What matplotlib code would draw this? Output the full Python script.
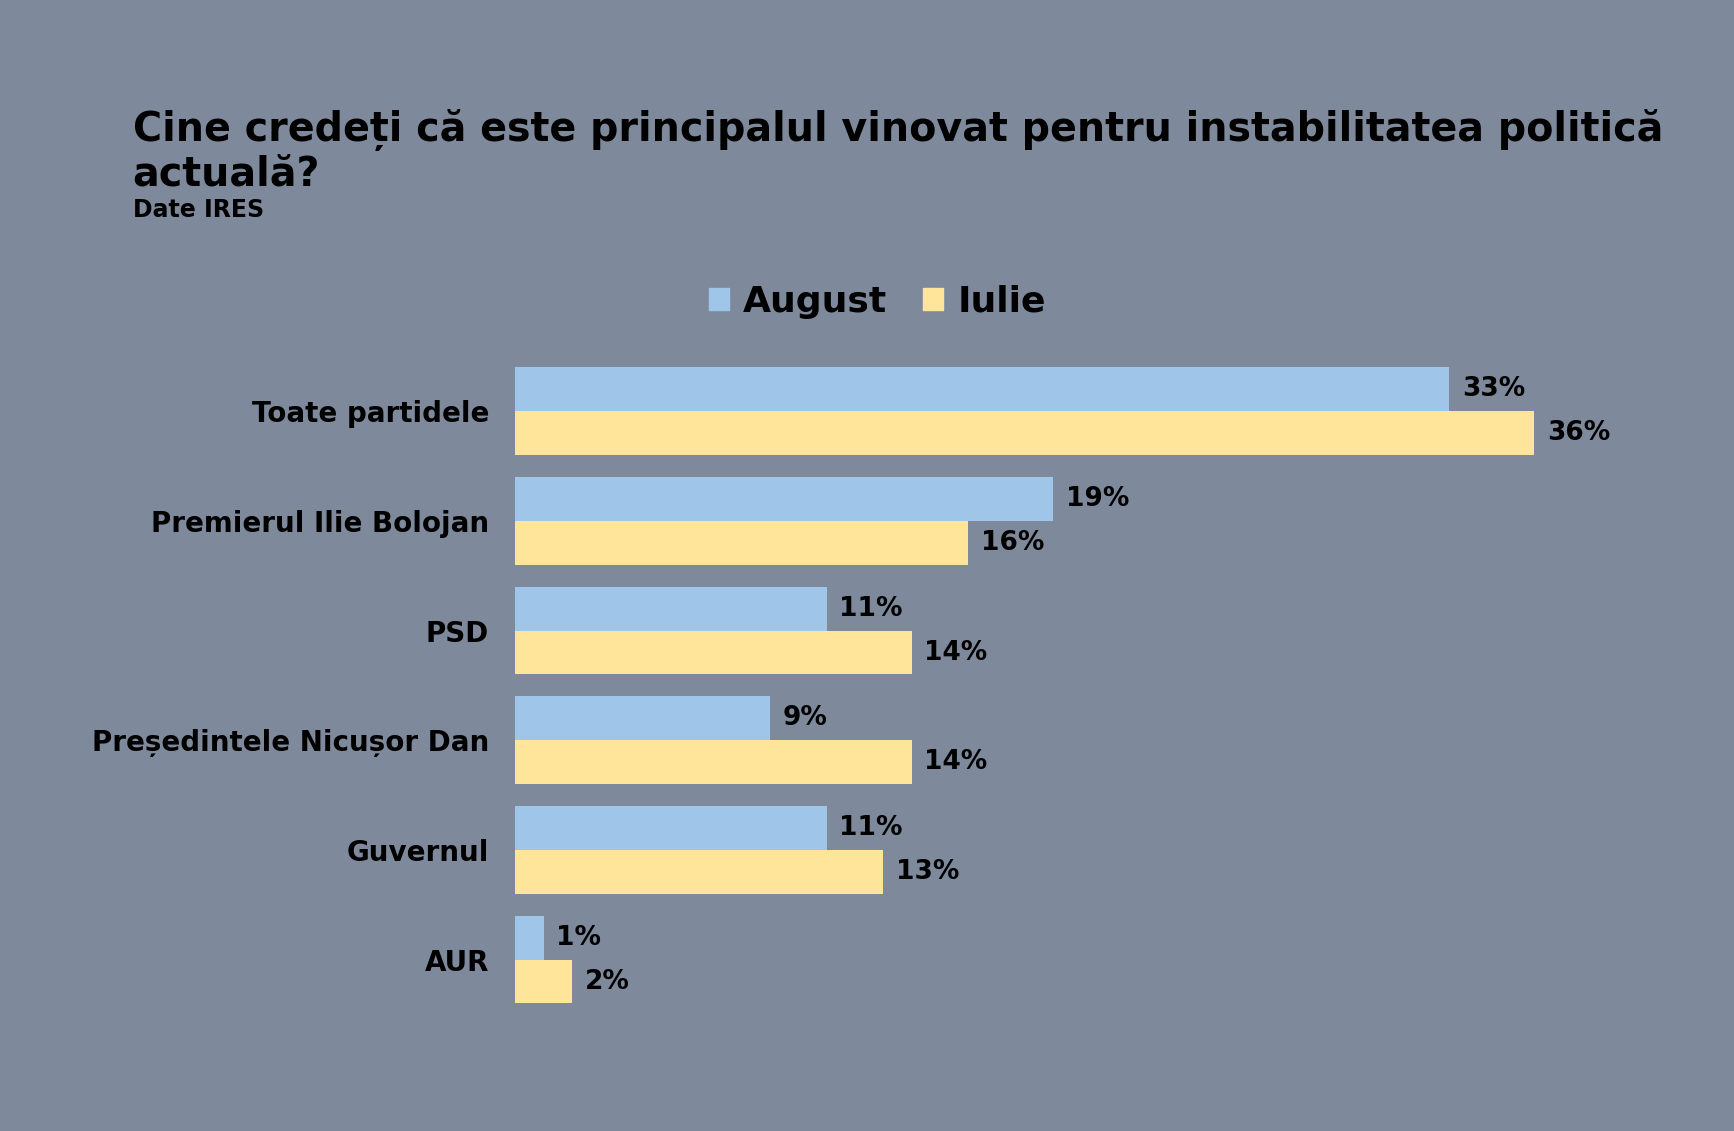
import numpy as np
import matplotlib
matplotlib.use("Agg")
import matplotlib.pyplot as plt
from matplotlib.patches import Patch

categories = ["Toate partidele", "Premierul Ilie Bolojan", "PSD",
              "Președintele Nicușor Dan", "Guvernul", "AUR"]
august = [33, 19, 11, 9, 11, 1]
iulie = [36, 16, 14, 14, 13, 2]

bg = "#7E8A9C"
c_aug = "#9FC5E8"
c_iul = "#FFE599"

plt.rcParams['font.family'] = ['DejaVu Sans']
plt.rcParams['font.weight'] = 'bold'

fig = plt.figure(figsize=(17.34, 11.31), dpi=100, facecolor=bg)
ax = fig.add_axes([0.2972, 0.0934, 0.653, 0.6011])
ax.set_facecolor(bg)

y = np.arange(len(categories))
h = 0.4
ax.barh(y - h/2, august, height=h, color=c_aug, label="August")
ax.barh(y + h/2, iulie, height=h, color=c_iul, label="Iulie")

for i in range(len(categories)):
    ax.text(august[i] + 0.45, y[i] - h/2, "%d%%" % august[i], va="center",
            ha="left", fontsize=19, fontweight="bold", color="black")
    ax.text(iulie[i] + 0.45, y[i] + h/2, "%d%%" % iulie[i], va="center",
            ha="left", fontsize=19, fontweight="bold", color="black")

ax.set_xlim(0, 40)
ax.set_ylim(5.6, -0.6)
ax.set_yticks(y)
ax.set_yticklabels(categories, fontsize=20, fontweight="bold")
ax.tick_params(axis="y", length=0, pad=19)
ax.set_xticks([])
for s in ax.spines.values():
    s.set_visible(False)

fig.text(0.0765, 0.866, "Cine credeți că este principalul vinovat pentru instabilitatea politică\nactuală?",
         fontsize=28.5, fontweight="bold", va="center", ha="left", linespacing=1.1)
fig.text(0.0765, 0.814, "Date IRES", fontsize=17, fontweight="bold", va="center", ha="left")

handles = [Patch(color=c_aug, label="August"), Patch(color=c_iul, label="Iulie")]
fig.legend(handles=handles, loc="center", bbox_to_anchor=(0.506, 0.733), ncol=2,
           frameon=False, handlelength=0.55, handleheight=0.55,
           handletextpad=0.4, columnspacing=1.0, prop={'weight': 'bold', 'size': 26})

fig.savefig("out.png", dpi=100, facecolor=bg)
